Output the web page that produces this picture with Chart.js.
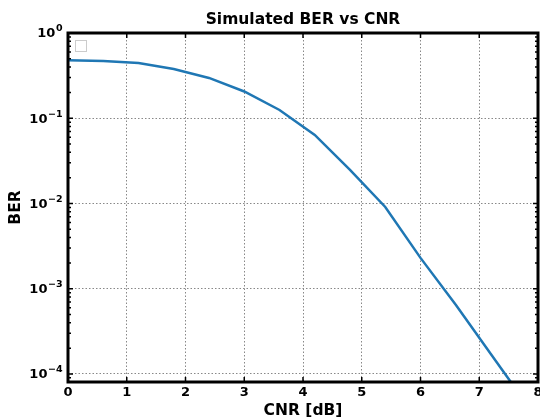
<!DOCTYPE html>
<html>
<head>
<meta charset="utf-8">
<script src="https://cdn.jsdelivr.net/npm/chart.js@4/dist/chart.umd.min.js"></script>
<style>
  html, body { margin: 0; padding: 0; background: #fff; }
</style>
</head>
<body>
<canvas id="myChart" width="540" height="419"></canvas>
<script>
// values
const cnr = [0, 0.6, 1.2, 1.8, 2.4, 3.0, 3.6, 4.2, 4.8, 5.4, 6.0, 6.6, 7.2, 7.8];
const ber = [0.48, 0.47, 0.445, 0.378, 0.297, 0.206, 0.125, 0.0637, 0.0248, 0.0091, 0.0023, 0.00065, 0.00017, 0.000045];
const yMajor = [1e-4, 1e-3, 1e-2, 1e-1, 1];
const yExponents = ["\u22124", "\u22123", "\u22122", "\u22121", "0"];
const xTicks = [0, 1, 2, 3, 4, 5, 6, 7, 8];
const chartTitle = "Simulated BER vs CNR";

const FONT = "'DejaVu Sans', sans-serif";

// minor ticks 2..9 per decade, for the log axis
const yMinor = [];
for (let e = -5; e < 0; e++) {
  for (let m = 2; m <= 9; m++) yMinor.push(m * Math.pow(10, e));
}

// frame, inward ticks, 10^n labels, title over the axes and the empty legend box
const framePlugin = {
  id: "frame",
  afterDraw(chart) {
    const { ctx, chartArea: a, scales } = chart;
    const ys = scales.y, xs = scales.x;
    ctx.save();
    ctx.strokeStyle = "#000";
    ctx.lineWidth = 1.5;
    ctx.beginPath();
    for (const v of xTicks) {
      const px = xs.getPixelForValue(v);
      ctx.moveTo(px, a.bottom); ctx.lineTo(px, a.bottom - 5);
      ctx.moveTo(px, a.top); ctx.lineTo(px, a.top + 5);
    }
    for (const v of yMajor) {
      const py = ys.getPixelForValue(v);
      ctx.moveTo(a.left, py); ctx.lineTo(a.left + 5, py);
      ctx.moveTo(a.right, py); ctx.lineTo(a.right - 5, py);
    }
    ctx.stroke();
    ctx.beginPath();
    for (const v of yMinor) {
      if (v < ys.min || v > ys.max) continue;
      const py = ys.getPixelForValue(v);
      ctx.moveTo(a.left, py); ctx.lineTo(a.left + 3, py);
      ctx.moveTo(a.right, py); ctx.lineTo(a.right - 3, py);
    }
    ctx.stroke();
    ctx.lineWidth = 3;
    ctx.strokeRect(a.left, a.top, a.right - a.left, a.bottom - a.top);

    // y tick labels: "10" with a raised exponent
    ctx.fillStyle = "#000";
    ctx.textBaseline = "middle";
    ctx.textAlign = "left";
    yMajor.forEach((v, i) => {
      const py = ys.getPixelForValue(v);
      ctx.font = "bold 9.5px " + FONT;
      const ew = ctx.measureText(yExponents[i]).width;
      ctx.font = "bold 13px " + FONT;
      const bw = ctx.measureText("10").width;
      const x0 = a.left - 6 - ew - bw;
      ctx.fillText("10", x0, py + 1);
      ctx.font = "bold 9.5px " + FONT;
      ctx.fillText(yExponents[i], x0 + bw + 0.5, py - 4);
    });

    // title centred over the plot area
    ctx.font = "bold 15.5px " + FONT;
    ctx.textAlign = "center";
    ctx.fillText(chartTitle, (a.left + a.right) / 2, 20);

    ctx.lineWidth = 1;
    ctx.strokeStyle = "#cccccc";
    ctx.fillStyle = "#fff";
    ctx.fillRect(a.left + 7.5, a.top + 7.5, 11, 11);
    ctx.strokeRect(a.left + 7.5, a.top + 7.5, 11, 11);
    ctx.restore();
  }
};

const ctx = document.getElementById("myChart");

new Chart(ctx, {
  type: "line",
  data: {
    datasets: [
      {
        data: cnr.map((x, i) => ({ x: x, y: ber[i] })),
        borderColor: "#1f77b4",
        borderWidth: 2.5,
        pointRadius: 0,
        tension: 0,
        fill: false,
      },
    ],
  },
  options: {
    responsive: false,
    animation: false,
    devicePixelRatio: 1,
    layout: { padding: { left: 0, right: 2, top: 33, bottom: 0 } },
    plugins: {
      legend: { display: false },
      tooltip: { enabled: false },
      title: { display: false },
    },
    scales: {
      x: {
        type: "linear",
        min: 0,
        max: 8,
        afterBuildTicks: (s) => { s.ticks = xTicks.map((v) => ({ value: v })); },
        afterFit: (s) => { s.height = 37; s.paddingLeft = 0; s.paddingRight = 0; },
        ticks: {
          autoSkip: false,
          maxRotation: 0,
          color: "#000",
          padding: 3,
          font: { family: FONT, size: 13, weight: "bold" },
        },
        grid: { color: "#888", lineWidth: 1, drawTicks: false },
        border: { display: false, dash: [1.5, 2] },
        title: {
          display: true,
          text: "CNR [dB]",
          color: "#000",
          padding: { top: 0.3, bottom: 0 },
          font: { family: FONT, size: 15.5, weight: "bold", lineHeight: 1 },
        },
      },
      y: {
        type: "logarithmic",
        min: 8.05e-5,
        max: 1,
        afterBuildTicks: (s) => { s.ticks = yMajor.map((v) => ({ value: v })); },
        afterFit: (s) => { s.width = 68; s.paddingTop = 0; s.paddingBottom = 0; },
        ticks: { display: false },
        grid: { color: "#888", lineWidth: 1, drawTicks: false },
        border: { display: false, dash: [1.5, 2] },
        title: {
          display: true,
          text: "BER",
          color: "#000",
          padding: { top: 8, bottom: 0 },
          font: { family: FONT, size: 15.5, weight: "bold", lineHeight: 1 },
        },
      },
    },
  },
  plugins: [framePlugin],
});
</script>
</body>
</html>
